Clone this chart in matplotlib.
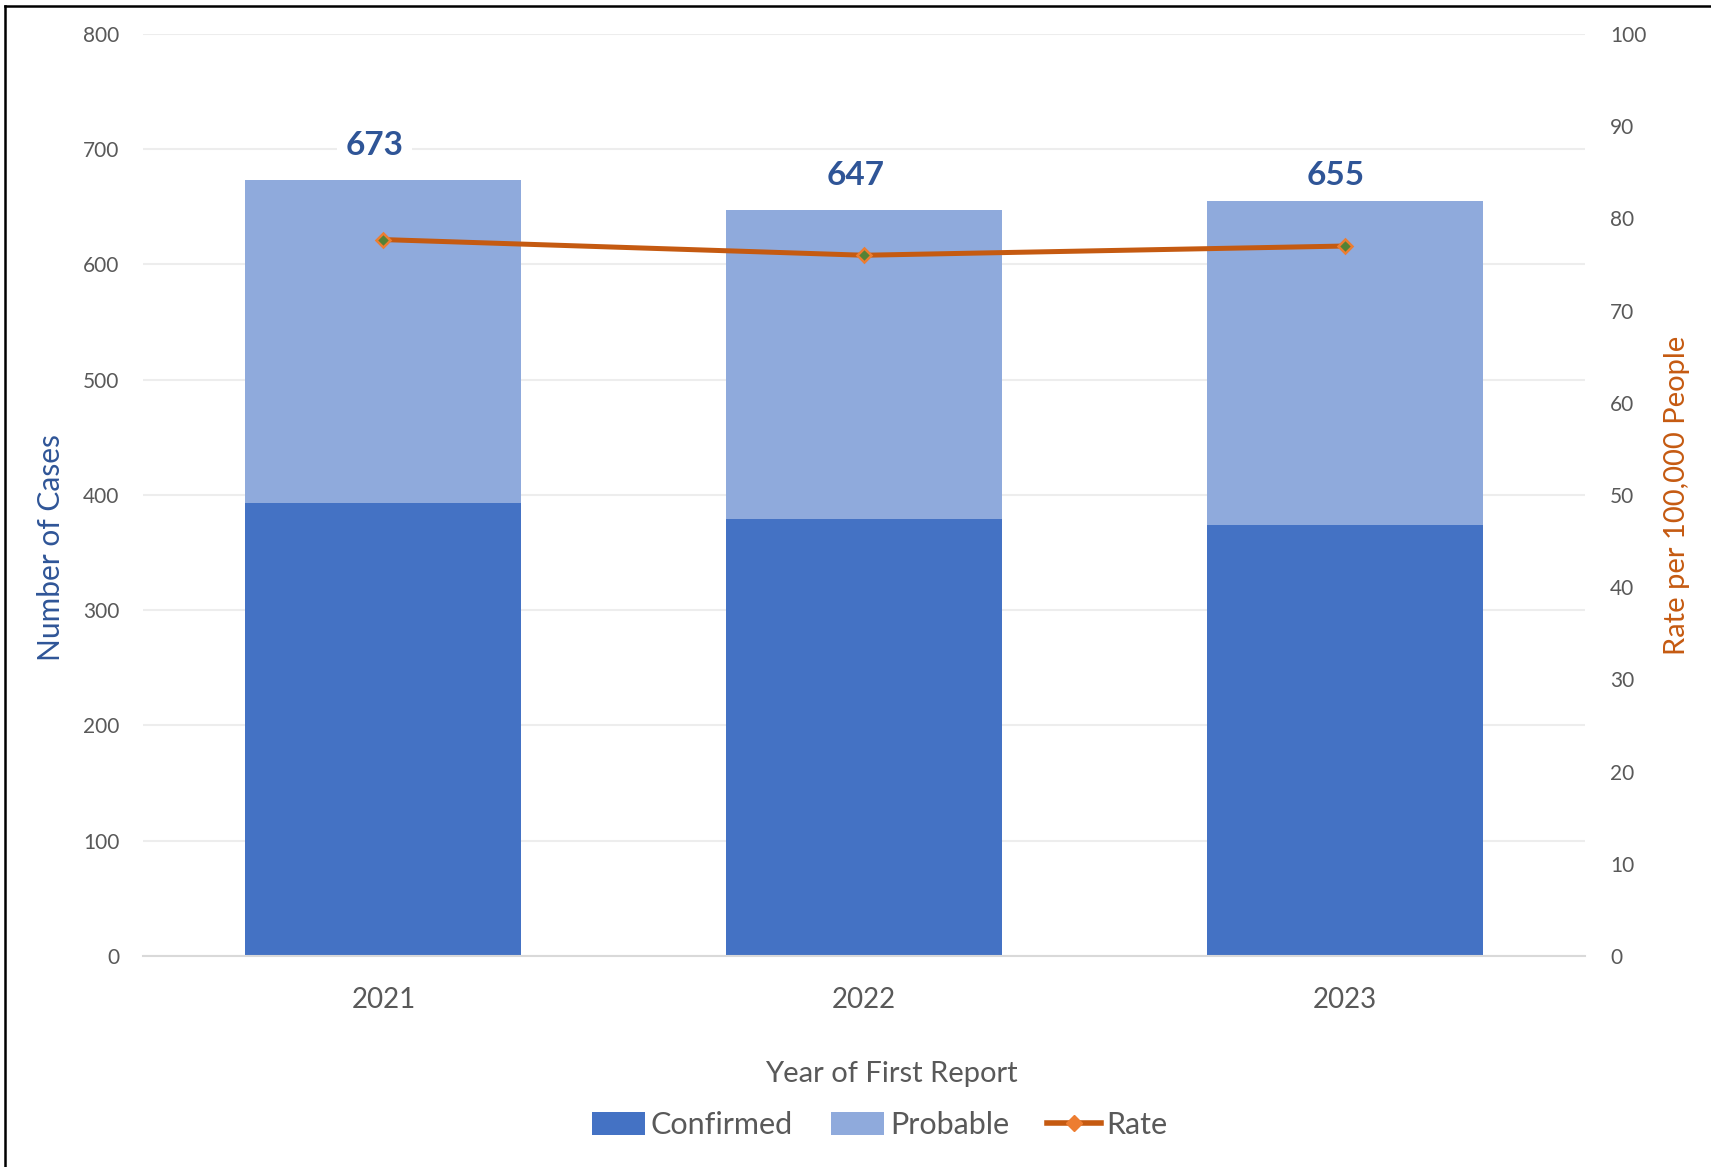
import numpy as np
import matplotlib.pyplot as plt
from matplotlib.patches import Patch
from matplotlib.lines import Line2D

plt.rcParams['font.family'] = ['Lato', 'DejaVu Sans']

years = ["2021", "2022", "2023"]
confirmed = [393, 379, 374]
probable = [280, 268, 281]
totals = [673, 647, 655]
rate = [77.7, 76.0, 77.0]

c_conf = "#4472C4"
c_prob = "#8FAADC"
c_line = "#C55A11"
c_mark_edge = "#ED7D31"
c_mark_face = "#548235"
c_text = "#595959"
c_blue = "#2F5597"

fig = plt.figure(figsize=(17.11, 11.67), dpi=100)
ax = fig.add_axes([0.0836, 0.1808, 0.8428, 0.7901])
ax2 = ax.twinx()

x = np.arange(len(years))
w = 0.574
ax.bar(x, confirmed, w, color=c_conf, zorder=2)
ax.bar(x, probable, w, bottom=confirmed, color=c_prob, zorder=2)

# total labels above each stack (last one sits a little lower)
label_dy = [30, 30, 22]
for xi, t, dy in zip(x, totals, label_dy):
    ax.text(xi - 0.018, t + dy, str(t), ha="center", va="center", fontsize=24,
            fontweight="bold", color=c_blue, zorder=4,
            bbox=dict(facecolor="white", edgecolor="none", pad=6))

ax2.plot(x, rate, color=c_line, lw=3.6, marker="D", markersize=7,
         markerfacecolor=c_mark_face, markeredgecolor=c_mark_edge,
         markeredgewidth=1.8, zorder=5)

ax.set_xlim(-0.5, 2.5)
ax.set_ylim(0, 800)
ax2.set_ylim(0, 100)
ax.set_yticks(range(0, 801, 100))
ax2.set_yticks(range(0, 101, 10))
ax.set_xticks(x)
ax.set_xticklabels(years)

ax.grid(axis="y", color="#EDEDED", lw=1.5, zorder=0)
ax.set_axisbelow(True)
for a in (ax, ax2):
    for s in a.spines.values():
        s.set_visible(False)
ax.spines["bottom"].set_visible(True)
ax.spines["bottom"].set_color("#D9D9D9")
ax.spines["bottom"].set_linewidth(1.5)

ax.tick_params(axis="y", length=0, pad=17, labelsize=15, labelcolor=c_text)
ax2.tick_params(axis="y", length=0, pad=18, labelsize=15, labelcolor=c_text)
ax.tick_params(axis="x", length=0, pad=22, labelsize=20, labelcolor=c_text)

ax.set_xlabel("Year of First Report", fontsize=21, color=c_text)
ax.xaxis.set_label_coords(0.519, -0.114)
ax.set_ylabel("Number of Cases", fontsize=21.5, color=c_blue)
ax.yaxis.set_label_coords(-0.0538, 0.4425)
ax2.set_ylabel("Rate per 100,000 People", fontsize=21, color=c_line)
ax2.yaxis.set_label_coords(1.0548, 0.5)

handles = [
    Patch(facecolor=c_conf, edgecolor="none"),
    Patch(facecolor=c_prob, edgecolor="none"),
    Line2D([0], [0], color=c_line, lw=4, marker="D", markersize=8,
           markerfacecolor=c_mark_edge, markeredgecolor=c_mark_edge),
]
fig.legend(handles, ["Confirmed", "Probable", "Rate"], loc="center",
           bbox_to_anchor=(0.514, 0.036), ncol=3, frameon=False,
           fontsize=22, labelcolor=c_text, handlelength=1.75, handleheight=0.75,
           handletextpad=0.18, columnspacing=1.25)

# frame lines along the top and left edges
fig.add_artist(Line2D([0.003, 0.003], [0, 0.995], color="black", lw=1.8))
fig.add_artist(Line2D([0.003, 1.0], [0.995, 0.995], color="black", lw=1.8))

fig.savefig("out.png", dpi=100)
